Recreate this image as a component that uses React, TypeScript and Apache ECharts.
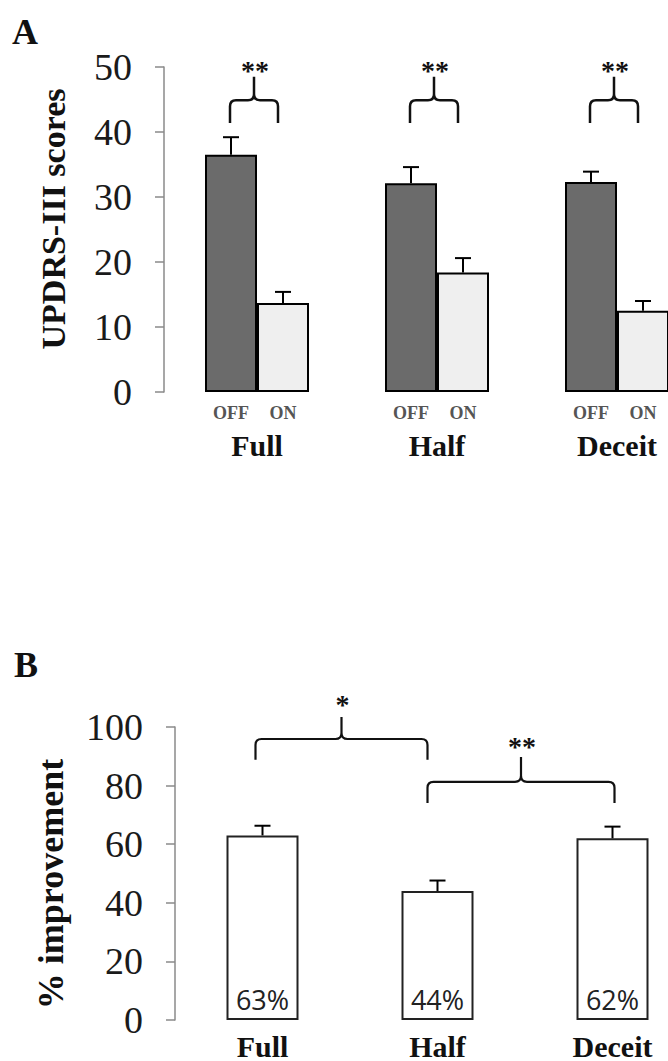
import React, { useEffect, useRef } from "react";
import * as echarts from "echarts";

// ---------- data ----------
const categories = ["Full", "Half", "Deceit"];
const conditionNames = ["OFF", "ON"];
const offScores = [36.5, 32.1, 32.3];
const offErrors = [2.7, 2.5, 1.6];
const onScores = [13.7, 18.4, 12.5];
const onErrors = [1.7, 2.2, 1.5];
const topSignificance = ["**", "**", "**"];
// bracket levels: leg bottom, bracket line, peak, star label
const topBracketLevels = [41.4, 44.9, 48.5, 49.4];

const improvement = [63, 44, 62];
const improvementErrors = [3.3, 3.6, 4.0];
const comparisonPairs = [
  [0, 1],
  [1, 2],
];
const comparisonSignificance = ["*", "**"];
const comparisonLevels = [
  [88.8, 95.9, 103.4, 107.6],
  [74.1, 81.3, 89.8, 93.2],
];
const comparisonShift = [
  [-7, -10],
  [-10, 2],
];

const SERIF = "'Liberation Serif', 'Times New Roman', serif";

function bracePath(lx: number, rx: number, cx: number, by: number, hy: number, py: number, r: number) {
  return (
    `M${lx},${by} L${lx},${hy + r} Q${lx},${hy} ${lx + r},${hy} L${cx - r},${hy} Q${cx},${hy} ${cx},${hy - r} L${cx},${py} ` +
    `M${cx},${hy - r} Q${cx},${hy} ${cx + r},${hy} L${rx - r},${hy} Q${rx},${hy} ${rx},${hy + r} L${rx},${by}`
  );
}

function errorBarRender(halfOffset: number, cap: number) {
  return (params: any, api: any) => {
    const i = api.value(0);
    const v = api.value(1);
    const e = api.value(2);
    const side = api.value(3);
    const p0 = api.coord([i, v]);
    const p1 = api.coord([i, v + e]);
    const x = p0[0] + side * halfOffset;
    return {
      type: "group",
      children: [
        { type: "line", shape: { x1: x, y1: p0[1], x2: x, y2: p1[1] }, style: { stroke: "#000", lineWidth: 2 } },
        { type: "line", shape: { x1: x - cap, y1: p1[1], x2: x + cap, y2: p1[1] }, style: { stroke: "#000", lineWidth: 2 } },
      ],
    };
  };
}

export default function App() {
  const ref = useRef<HTMLDivElement>(null);

  useEffect(() => {
    if (!ref.current) return;
    const chart = echarts.init(ref.current, undefined, { renderer: "svg" });

    const yAxisCommon = {
      type: "value" as const,
      min: 0,
      offset: 0,
      axisLine: { show: true, lineStyle: { color: "#8a8a8a", width: 1.5 } },
      axisTick: { show: true, length: 9, lineStyle: { color: "#8a8a8a", width: 1.5 } },
      axisLabel: { fontFamily: SERIF, fontSize: 38, color: "#1a1a1a", margin: 32 },
      splitLine: { show: false },
    };

    const xAxisCommon = {
      type: "category" as const,
      data: categories,
      axisLine: { show: false },
      axisTick: { show: false },
    };

    const barLabel = {
      show: true,
      position: "bottom" as const,
      distance: 12,
      formatter: "{a}",
      fontFamily: SERIF,
      fontSize: 18,
      fontWeight: "bold" as const,
      color: "#555",
    };

    const option: any = {
      animation: false,
      backgroundColor: "#fff",
      grid: [
        { left: 167, top: 67, width: 540, height: 325 },
        { left: 175, top: 727, width: 525, height: 294 },
      ],
      xAxis: [
        {
          ...xAxisCommon,
          gridIndex: 0,
          axisLabel: { fontFamily: SERIF, fontSize: 30, fontWeight: "bold", color: "#111", margin: 38 },
        },
        {
          ...xAxisCommon,
          gridIndex: 1,
          axisLabel: { fontFamily: SERIF, fontSize: 30, fontWeight: "bold", color: "#111", margin: 11 },
        },
      ],
      yAxis: [
        { ...yAxisCommon, gridIndex: 0, max: 50, interval: 10, offset: 3 },
        { ...yAxisCommon, gridIndex: 1, max: 100, interval: 20 },
      ],
      series: [
        {
          name: conditionNames[0],
          type: "bar",
          xAxisIndex: 0,
          yAxisIndex: 0,
          data: offScores,
          barWidth: 52,
          barGap: "0%",
          itemStyle: { color: "#6b6b6b", borderColor: "#000", borderWidth: 2 },
          label: barLabel,
        },
        {
          name: conditionNames[1],
          type: "bar",
          xAxisIndex: 0,
          yAxisIndex: 0,
          data: onScores,
          barWidth: 52,
          barGap: "0%",
          itemStyle: { color: "#efefef", borderColor: "#000", borderWidth: 2 },
          label: barLabel,
        },
        {
          type: "custom",
          xAxisIndex: 0,
          yAxisIndex: 0,
          z: 5,
          data: [
            ...offScores.map((v, i) => [i, v, offErrors[i], -1]),
            ...onScores.map((v, i) => [i, v, onErrors[i], 1]),
          ],
          renderItem: errorBarRender(26, 8),
        },
        {
          type: "custom",
          xAxisIndex: 0,
          yAxisIndex: 0,
          z: 5,
          data: categories.map((_, i) => [i, ...topBracketLevels]),
          renderItem: (params: any, api: any) => {
            const i = api.value(0);
            const c = api.coord([i, api.value(1)]);
            const cx = c[0] - 3;
            const by = c[1];
            const hy = api.coord([i, api.value(2)])[1];
            const py = api.coord([i, api.value(3)])[1];
            const sy = api.coord([i, api.value(4)])[1];
            return {
              type: "group",
              children: [
                {
                  type: "path",
                  shape: { pathData: bracePath(cx - 24, cx + 24, cx, by, hy, py, 6) },
                  style: { stroke: "#111", lineWidth: 2.5, fill: "none" },
                },
                {
                  type: "text",
                  x: cx + 1,
                  y: sy,
                  style: {
                    text: topSignificance[params.dataIndex],
                    fontFamily: SERIF,
                    fontSize: 28,
                    fontWeight: "bold",
                    fill: "#111",
                    align: "center",
                    verticalAlign: "middle",
                  },
                },
              ],
            };
          },
        },
        {
          type: "bar",
          xAxisIndex: 1,
          yAxisIndex: 1,
          data: improvement,
          barWidth: 72,
          itemStyle: { color: "#fff", borderColor: "#222", borderWidth: 2 },
          label: {
            show: true,
            position: "insideBottom",
            distance: 7,
            formatter: (p: any) => `${Math.round(p.value)}%`,
            fontFamily: "'Open Sans', 'Noto Sans', sans-serif",
            fontSize: 27,
            color: "#222",
          },
        },
        {
          type: "custom",
          xAxisIndex: 1,
          yAxisIndex: 1,
          z: 5,
          data: improvement.map((v, i) => [i, v, improvementErrors[i], 0]),
          renderItem: errorBarRender(0, 8),
        },
        {
          type: "custom",
          xAxisIndex: 1,
          yAxisIndex: 1,
          z: 5,
          data: comparisonPairs.map((pair, k) => [...pair, ...comparisonLevels[k]]),
          renderItem: (params: any, api: any) => {
            const k = params.dataIndex;
            const a = api.value(0);
            const b = api.value(1);
            const lx = api.coord([a, api.value(2)])[0] + comparisonShift[k][0];
            const rx = api.coord([b, api.value(2)])[0] + comparisonShift[k][1];
            const by = api.coord([a, api.value(2)])[1];
            const hy = api.coord([a, api.value(3)])[1];
            const py = api.coord([a, api.value(4)])[1];
            const sy = api.coord([a, api.value(5)])[1];
            const cx = (lx + rx) / 2;
            return {
              type: "group",
              children: [
                {
                  type: "path",
                  shape: { pathData: bracePath(lx, rx, cx, by, hy, py, 6) },
                  style: { stroke: "#111", lineWidth: 2.2, fill: "none" },
                },
                {
                  type: "text",
                  x: cx + 1,
                  y: sy,
                  style: {
                    text: comparisonSignificance[k],
                    fontFamily: SERIF,
                    fontSize: 28,
                    fontWeight: "bold",
                    fill: "#111",
                    align: "center",
                    verticalAlign: "middle",
                  },
                },
              ],
            };
          },
        },
      ],
      graphic: [
        {
          type: "text",
          left: 12,
          top: 14,
          style: { text: "A", fontFamily: SERIF, fontSize: 36, fontWeight: "bold", fill: "#111" },
        },
        {
          type: "text",
          left: 14,
          top: 647,
          style: { text: "B", fontFamily: SERIF, fontSize: 36, fontWeight: "bold", fill: "#111" },
        },
        {
          type: "text",
          x: 53,
          y: 219,
          rotation: Math.PI / 2,
          style: {
            text: "UPDRS-III scores",
            fontFamily: SERIF,
            fontSize: 34,
            fontWeight: "bold",
            fill: "#111",
            align: "center",
            verticalAlign: "middle",
          },
        },
        {
          type: "text",
          x: 51,
          y: 884,
          rotation: Math.PI / 2,
          style: {
            text: "% improvement",
            fontFamily: SERIF,
            fontSize: 36,
            fontWeight: "bold",
            fill: "#111",
            align: "center",
            verticalAlign: "middle",
          },
        },
      ],
    };

    chart.setOption(option);
    return () => chart.dispose();
  }, []);

  return (
    <div style={{ position: "fixed", left: 0, top: 0, width: 668, height: 1061, overflow: "hidden", background: "#fff" }}>
      <div ref={ref} style={{ width: 720, height: 1061 }} />
    </div>
  );
}
